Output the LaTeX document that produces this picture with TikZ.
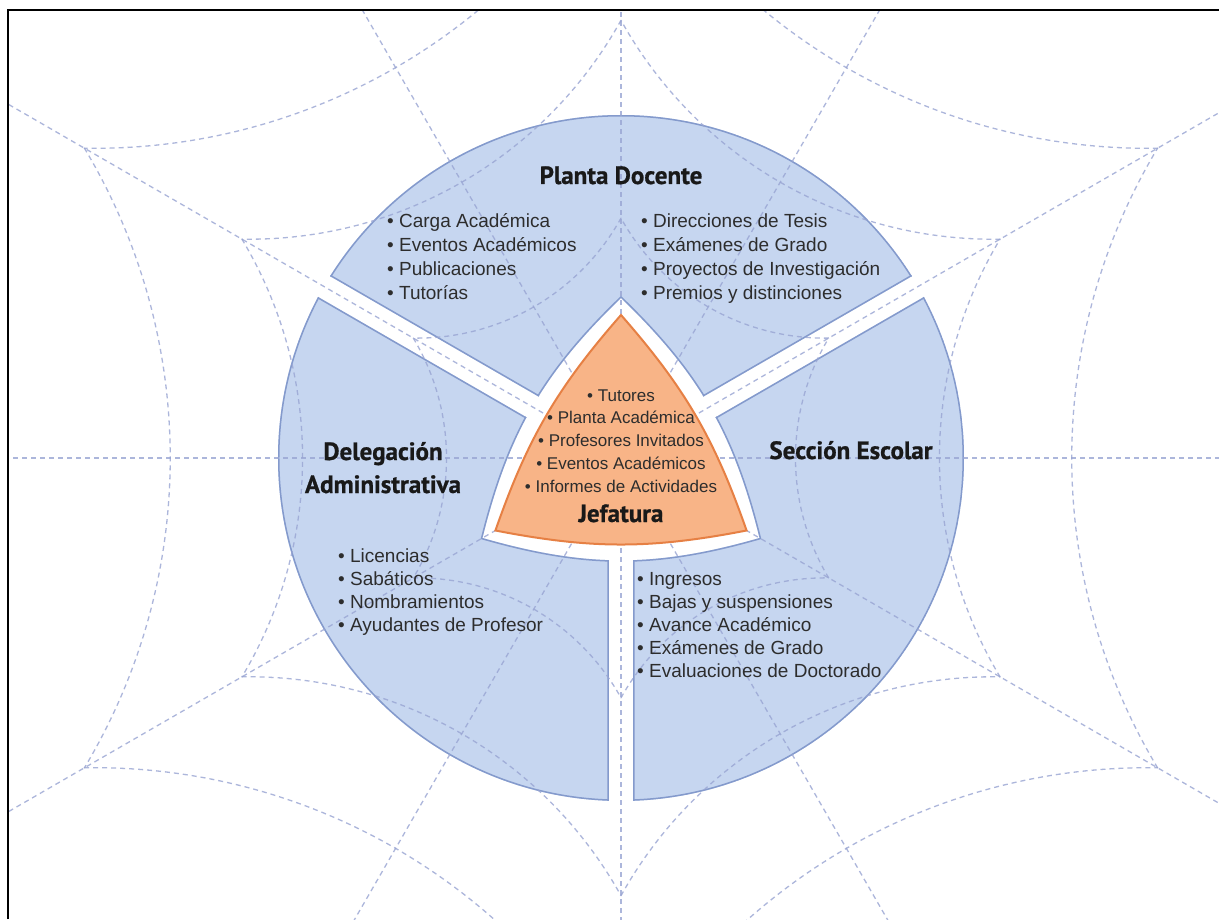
\documentclass[tikz,border=0pt]{standalone}
\usepackage{fontspec}
\setmainfont{Liberation Sans}
\newfontfamily\headfont{PT Sans}[BoldFeatures={FakeBold=0.8}]
\usetikzlibrary{calc}

\definecolor{webc}{RGB}{152,164,210}
\definecolor{secfill}{RGB}{198,214,240}
\definecolor{secline}{RGB}{132,154,204}
\definecolor{jfill}{RGB}{248,180,135}
\definecolor{jline}{RGB}{230,128,68}
\definecolor{txt}{RGB}{45,45,45}
\definecolor{head}{RGB}{25,25,25}

\tikzset{
  web/.style={draw=webc, line width=1.3pt, dash pattern=on 5pt off 4pt, opacity=0.8},
  item/.style={inner sep=0pt, anchor=base west, text=txt, font=\fontsize{19}{23}\selectfont},
  jitem/.style={inner sep=0pt, anchor=base, text=txt, font=\fontsize{17}{20}\selectfont},
  heading/.style={inner sep=0pt, anchor=base, text=head, font=\headfont\bfseries\fontsize{25}{29}\selectfont},
  secborder/.style={draw=secline, line width=3pt},
}

\begin{document}
\begin{tikzpicture}[x=1pt,y=1pt]
\useasboundingbox (-621,-461) rectangle (598,458);
\fill[white] (-621,-461) rectangle (598,458);

% blue sectors
\foreach \b in {90,210,330}{
 \begin{scope}
  \clip ($(\b:13.86)$) -- ($(\b:13.86)+(\b+60:1000)$) -- ($(\b:13.86)+(\b-60:1000)$) -- cycle;
  \begin{scope}[even odd rule]
  \clip (0,0) circle (343) (90:160) to[bend left=16] (330:160) to[bend left=16] (210:160) to[bend left=16] cycle;
  \fill[secfill] (0,0) circle (343);
  \draw[secborder] (0,0) circle (343);
  \draw[secborder] (90:160) to[bend left=16] (330:160) to[bend left=16] (210:160) to[bend left=16] cycle;
  \draw[secborder] ($(\b:13.86)$) -- ($(\b:13.86)+(\b+60:1000)$)  ($(\b:13.86)$) -- ($(\b:13.86)+(\b-60:1000)$);
  \end{scope}
 \end{scope}
}

% spider web
\begin{scope}
 \clip (-613,-461) rectangle (598,448);
 \foreach \a in {0,30,...,330} \draw[web] (0,0) -- (\a:1200);
 \foreach \r in {240,438,620}{
  \foreach \d in {0,60,...,300}{
   \draw[web] ($(\d:{1.698*\r})+(\d+211:{0.971*\r})$) arc[start angle=\d+211, end angle=\d+149, radius={0.971*\r}];
  }
 }
\end{scope}

% Jefatura shape
\draw[draw=jline, fill=jfill, line width=2pt] (90:143) to[bend right=11] (210:145) to[bend right=11] (330:145) to[bend right=11] cycle;

% frame
\draw[line width=2pt] (-613,-461) -- (-613,448) -- (598,448);

% headings
\node[heading] (hpd) at (0,274) {Planta Docente};
\node[heading] (hda1) at (-238,-2) {Delegación};
\node[heading] (hda2) at (-238,-35) {Administrativa};
\node[heading] (hse) at (230,-1) {Sección Escolar};
\node[heading] (hj) at (0,-64) {Jefatura};

% lists
\foreach \t [count=\i] in {Carga Académica, Eventos Académicos, Publicaciones, Tutorías}
  \node[item] (pl\i) at (-234, {230-(\i-1)*23.7}) {• \t};
\foreach \t [count=\i] in {Direcciones de Tesis, Exámenes de Grado, Proyectos de Investigación, Premios y distinciones}
  \node[item] (pr\i) at (20, {230-(\i-1)*23.7}) {• \t};
\foreach \t [count=\i] in {Licencias, Sabáticos, Nombramientos, Ayudantes de Profesor}
  \node[item] (dl\i) at (-283, {-104-(\i-1)*23.2}) {• \t};
\foreach \t [count=\i] in {Ingresos, Bajas y suspensiones, Avance Académico, Exámenes de Grado, Evaluaciones de Doctorado}
  \node[item] (sl\i) at (16, {-127-(\i-1)*23.2}) {• \t};
\foreach \t [count=\i] in {Tutores, Planta Académica, Profesores Invitados, Eventos Académicos, Informes de Actividades}
  \node[jitem] (jl\i) at (0, {57-(\i-1)*22.8}) {• \t};
\end{tikzpicture}
\end{document}
